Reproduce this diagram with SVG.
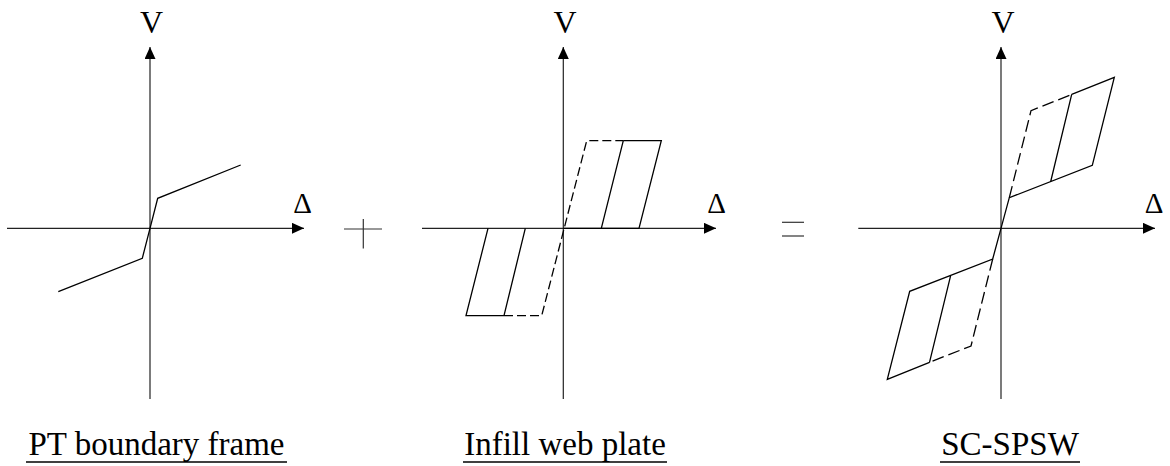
<svg xmlns="http://www.w3.org/2000/svg" width="1170" height="466" viewBox="0 0 1170 466">
<style>
.ax{stroke:#222;stroke-width:1.2;fill:none}
.cv{stroke:#000;stroke-width:1.3;fill:none;stroke-linejoin:miter}
.ds2{stroke:#000;stroke-width:1.3;fill:none;stroke-dasharray:9 4}
.ds3{stroke:#000;stroke-width:1.3;fill:none;stroke-dasharray:12 5}
.lbl{font-family:"Liberation Serif","Times New Roman",serif;fill:#000}
.ttl{font-family:"Liberation Serif","Times New Roman",serif;font-size:33px;fill:#000}
.ul{stroke:#000;stroke-width:1.5}
.sym{stroke:#333;stroke-width:1.2;fill:none}
</style>
<defs>
<marker id="arr" markerUnits="userSpaceOnUse" markerWidth="12" markerHeight="11" refX="12" refY="5.5" orient="auto">
<path d="M0,0 L12,5.5 L0,11 z" fill="#000"/>
</marker>
</defs>
<g id="panel-pt-frame">
<line class="ax" x1="150" y1="399" x2="150" y2="47" marker-end="url(#arr)"/>
<line class="ax" x1="7" y1="228.3" x2="304" y2="228.3" marker-end="url(#arr)"/>
<polyline class="cv" points="58.3,291.7 142.3,258.3 150,228.3 157.7,198.3 240.7,165"/>
<text class="lbl" x="151.5" y="33" font-size="32" text-anchor="middle">V</text>
<text class="lbl" x="302.5" y="213" font-size="29" text-anchor="middle">Δ</text>
<text class="ttl" x="156.5" y="455" text-anchor="middle">PT boundary frame</text>
<line class="ul" x1="26" y1="462" x2="287" y2="462"/>
</g>
<g id="plus">
<line class="sym" x1="344" y1="229" x2="382" y2="229"/>
<line class="sym" x1="363.3" y1="219" x2="363.3" y2="248.5"/>
</g>
<g id="panel-web-plate">
<line class="ax" x1="563.3" y1="399" x2="563.3" y2="47" marker-end="url(#arr)"/>
<line class="ax" x1="422" y1="228.3" x2="716" y2="228.3" marker-end="url(#arr)"/>
<path class="ds2" d="M504,315.7 L541.7,315.7 L586.7,140.7 L623.3,140.7"/>
<path class="cv" d="M623.3,140.7 L661.3,140.7 L639,228.3 M623.3,140.7 L601.3,228.3 M563.3,228.3 L639,228.3 M504,315.7 L466,315.7 L488,228.3 M504,315.7 L525.3,228.3"/>
<text class="lbl" x="565" y="33" font-size="32" text-anchor="middle">V</text>
<text class="lbl" x="716.7" y="213" font-size="29" text-anchor="middle">Δ</text>
<text class="ttl" x="565" y="455" text-anchor="middle">Infill web plate</text>
<line class="ul" x1="463" y1="462" x2="667" y2="462"/>
</g>
<g id="equals">
<line class="sym" x1="782" y1="222.3" x2="804" y2="222.3" stroke="#666"/>
<line class="sym" x1="782" y1="236" x2="804" y2="236"/>
</g>
<g id="panel-sc-spsw">
<line class="ax" x1="1001" y1="399" x2="1001" y2="47" marker-end="url(#arr)"/>
<line class="ax" x1="858.3" y1="228.3" x2="1155" y2="228.3" marker-end="url(#arr)"/>
<path class="ds3" d="M1009.3,197.7 L1031,110.7 L1071.7,94.4 M992.7,259 L971,346 L929.5,362.3"/>
<path class="cv" d="M1071.7,94.4 L1114.3,77.3 L1092.3,165.3 L1009.3,197.7 L1001,228.3 L992.7,259 L909.7,291.3 L887.3,379.3 L929.5,362.3 M1071.7,94.4 L1050.7,181.5 M929.5,362.3 L950.7,275.3"/>
<text class="lbl" x="1003" y="33" font-size="32" text-anchor="middle">V</text>
<text class="lbl" x="1154" y="213" font-size="29" text-anchor="middle">Δ</text>
<text class="ttl" x="1010" y="455" text-anchor="middle">SC-SPSW</text>
<line class="ul" x1="940" y1="462" x2="1080" y2="462"/>
</g>
</svg>
